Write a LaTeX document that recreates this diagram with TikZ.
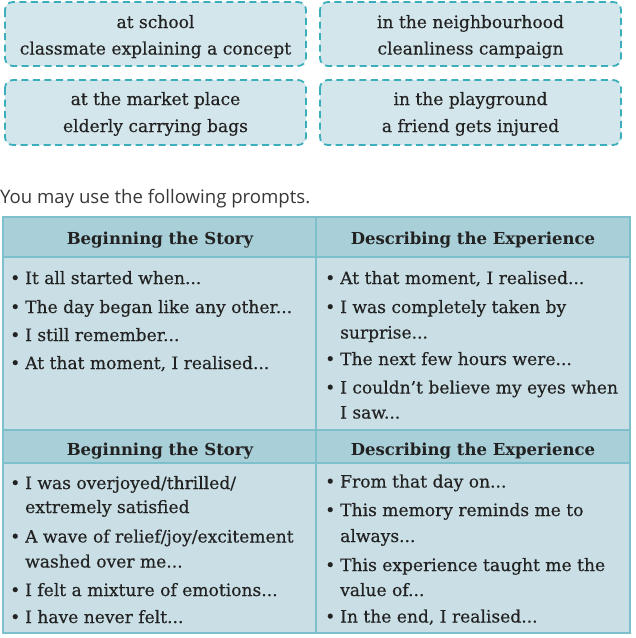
\documentclass[tikz,border=0pt]{standalone}
\usepackage{fontspec}
\setmainfont{DejaVu Serif}
\newfontfamily\bodyfont{DejaVu Serif}[FakeBold=0.4]
\newfontfamily\promptfont{Open Sans}
\definecolor{boxfill}{HTML}{D3E6EB}
\definecolor{boxdash}{HTML}{3AAFBB}
\definecolor{headfill}{HTML}{A9CFD8}
\definecolor{bodyfill}{HTML}{C9DFE5}
\definecolor{gridline}{HTML}{7DBFCB}
\definecolor{ink}{HTML}{222222}
\tikzset{
  situation/.style={draw=boxdash, fill=boxfill, line width=1.8pt, dash pattern=on 7pt off 4.5pt, rounded corners=8pt},
  txt/.style={inner sep=0pt, anchor=base, text=ink, font=\bodyfont\fontsize{17.1}{20}\selectfont},
  ltxt/.style={txt, anchor=base west},
  head/.style={inner sep=0pt, anchor=base, text=ink, font=\fontsize{16.5}{20}\selectfont\bfseries},
  grid/.style={draw=gridline, line width=1.6pt},
}
\newcommand\bitem[4]{% name, x, y, text
  \node[ltxt] (#1b) at (#2,#3) {•};
  \node[ltxt] (#1) at (#2+15,#3) {#4};}
\newcommand\bcont[4]{% name, x, y, text
  \node[ltxt] (#1) at (#2+15,#3) {#4};}
\begin{document}
\begin{tikzpicture}[x=1pt,y=-1pt]
\useasboundingbox (0,0) rectangle (636,638);
% situation boxes
\draw[situation] (5,2) rectangle (306,66);
\draw[situation] (320,2) rectangle (621,66);
\draw[situation] (5,80) rectangle (306,145);
\draw[situation] (320,80) rectangle (621,145);
\node[txt] (s1a) at (155.5,28) {at school};
\node[txt] (s1b) at (155.5,54.5) {classmate explaining a concept};
\node[txt] (s2a) at (470.5,28) {in the neighbourhood};
\node[txt] (s2b) at (470.5,54.5) {cleanliness campaign};
\node[txt] (s3a) at (155.5,105) {at the market place};
\node[txt] (s3b) at (155.5,132) {elderly carrying bags};
\node[txt] (s4a) at (470.5,105) {in the playground};
\node[txt] (s4b) at (470.5,132) {a friend gets injured};
% prompt line
\node[inner sep=0pt, anchor=base west, text=ink!90, font=\promptfont\fontsize{18.6}{20}\selectfont] (prompt) at (0,203.5) {You may use the following prompts.};
% table fills
\fill[headfill] (3,217) rectangle (630,257);
\fill[bodyfill] (3,257) rectangle (630,430);
\fill[headfill] (3,430) rectangle (630,463);
\fill[bodyfill] (3,463) rectangle (630,633);
% grid
\draw[grid] (3,217) rectangle (630,633);
\draw[grid] (3,257) -- (630,257);
\draw[grid] (3,430) -- (630,430);
\draw[grid] (3,463) -- (630,463);
\draw[grid] (316,217) -- (316,633);
% headers
\node[head] (h1) at (160,244) {Beginning the Story};
\node[head] (h2) at (473,244) {Describing the Experience};
\node[head] (h3) at (160,455.5) {Beginning the Story};
\node[head] (h4) at (473,455.5) {Describing the Experience};
% body 1 left
\bitem{a1}{10}{284}{It all started when...}
\bitem{a2}{10}{313}{The day began like any other...}
\bitem{a3}{10}{341}{I still remember...}
\bitem{a4}{10}{369}{At that moment, I realised...}
% body 1 right
\bitem{b1}{325}{284}{At that moment, I realised...}
\bitem{b2}{325}{313}{I was completely taken by}
\bcont{b2c}{325}{338.5}{surprise...}
\bitem{b3}{325}{365}{The next few hours were...}
\bitem{b4}{325}{393.5}{I couldn’t believe my eyes when}
\bcont{b4c}{325}{418.5}{I saw...}
% body 2 left
\bitem{c1}{10}{489}{I was overjoyed/thrilled/}
\bcont{c1c}{10}{513}{extremely satisfied}
\bitem{c2}{10}{542.5}{A wave of relief/joy/excitement}
\bcont{c2c}{10}{567.5}{washed over me...}
\bitem{c3}{10}{596}{I felt a mixture of emotions...}
\bitem{c4}{10}{623}{I have never felt...}
% body 2 right
\bitem{d1}{325}{487.5}{From that day on...}
\bitem{d2}{325}{516}{This memory reminds me to}
\bcont{d2c}{325}{542}{always...}
\bitem{d3}{325}{571}{This experience taught me the}
\bcont{d3c}{325}{596}{value of...}
\bitem{d4}{325}{622.5}{In the end, I realised...}
\end{tikzpicture}
\end{document}
